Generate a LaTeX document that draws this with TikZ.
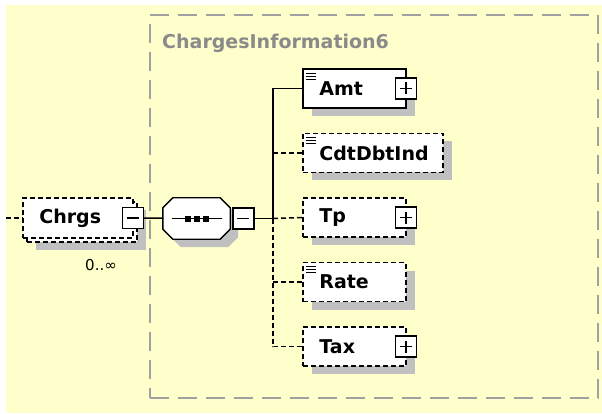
\documentclass[tikz,border=0pt]{standalone}
\usepackage{fontspec}
\setmainfont{DejaVu Sans}
\usetikzlibrary{positioning,shadows}
\definecolor{paper}{HTML}{FFFFCC}
\definecolor{grpline}{HTML}{A0A0A0}
\definecolor{grptext}{HTML}{8A8A8A}
\definecolor{shadowgray}{HTML}{C0C0C0}

\newcommand\docmark[1]{%
  \foreach \dy in {5,8,11}
    \draw[line width=1.3pt] ([shift={(4,\dy)}]#1.north west) -- ++(10,0);}
% octagon outline round a sequence node
\newcommand\octpath[1]{([xshift=10pt]#1.north west) -- ([xshift=-10pt]#1.north east)
  -- ([yshift=-10pt]#1.north east) -- ([yshift=10pt]#1.south east)
  -- ([xshift=-10pt]#1.south east) -- ([xshift=10pt]#1.south west)
  -- ([yshift=10pt]#1.south west) -- ([yshift=-10pt]#1.north west) -- cycle}

\begin{document}
\begin{tikzpicture}[x=1pt, y=-1pt,
  elem/.style={draw, fill=white, line width=1.6pt, inner sep=0pt,
               minimum width=103pt, minimum height=39pt},
  shd/.style={drop shadow={shadow xshift=9pt, shadow yshift=-8pt,
              fill=shadowgray, opacity=1}},
  opt/.style={dash pattern=on 5pt off 3pt},
  lbl/.style={font=\fontsize{19}{22}\selectfont\bfseries, inner sep=0pt},
  pmbox/.style={draw, fill=white, line width=1.4pt, minimum size=21pt,
                inner sep=0pt},
  minusbox/.style={pmbox, path picture={
      \draw[line width=1.4pt] ([xshift=-6pt]path picture bounding box.center)
        -- ([xshift=6pt]path picture bounding box.center);}},
  plusbox/.style={pmbox, path picture={
      \draw[line width=1.4pt] ([xshift=-6pt]path picture bounding box.center)
        -- ([xshift=6pt]path picture bounding box.center);
      \draw[line width=1.4pt] ([yshift=-6pt]path picture bounding box.center)
        -- ([yshift=6pt]path picture bounding box.center);}},
  seqbox/.style={inner sep=0pt, minimum width=67pt, minimum height=41pt},
  conn/.style={line width=1.5pt},
  grp/.style={draw=grpline, line width=2pt, dash pattern=on 19pt off 9pt,
              minimum width=448pt, minimum height=383pt, inner sep=0pt},
]
\useasboundingbox (0,0) rectangle (602,414);
\fill[white] (0,0) rectangle (602,414);
\fill[paper] (6,5) rectangle (602,413);

% ── Group ChargesInformation6 ──────────────────────────────────────────
\node[grp] (grp) at (374,206.5) {};
\node[lbl, text=grptext, anchor=west] (grpL) at (162,43) {ChargesInformation6};

% ── Chrgs (0..unbounded) ───────────────────────────────────────────────
\node[elem, opt, shd, minimum width=110pt, minimum height=40pt] (chrgsbk) at (82,222) {};
\node[elem, opt, minimum width=110pt, minimum height=40pt] (chrgs) at (78,218) {};
\node[lbl, right=17pt of chrgs.west] (chrgsL) {Chrgs};
\node[minusbox] (chrgsM) at ([xshift=-1pt]chrgs.east) {};
\node[font=\fontsize{15}{17}\selectfont] (occ) at (101,265) {0..∞};
\coordinate (inlet) at (6,218);

% ── sequence ───────────────────────────────────────────────────────────
\node[seqbox] (seq) at (196.5,218.5) {};
\node[seqbox] (seqsh) at (204.5,226.5) {};
\fill[shadowgray] \octpath{seqsh};
\filldraw[fill=white, line width=1.4pt] \octpath{seq};
\draw[conn] ([xshift=9pt]seq.west) -- ([xshift=-8pt]seq.east);
\foreach \dx in {-9,0,9}
  \fill ([xshift=\dx pt]seq.center) +(-3,-3) rectangle +(3,3);
\node[minusbox, right=2pt of seq] (seqM) {};
\coordinate (fork) at (273,218.5);

% ── children ───────────────────────────────────────────────────────────
\node[elem, shd] (amt) at (354.5,88.5) {};
\node[elem, opt, shd, minimum width=140pt] (cdt) at (373,153) {};
\node[elem, opt, shd] (tp) at (354.5,217.5) {};
\node[elem, opt, shd] (rate) at (354.5,282) {};
\node[elem, opt, shd] (tax) at (354.5,346.5) {};

\node[lbl, right=17pt of amt.west] (amtL) {Amt};
\node[lbl, right=17pt of cdt.west] (cdtL) {CdtDbtInd};
\node[lbl, right=17pt of tp.west] (tpL) {Tp};
\node[lbl, right=17pt of rate.west] (rateL) {Rate};
\node[lbl, right=17pt of tax.west] (taxL) {Tax};

\node[plusbox] (amtP) at ([xshift=-1pt]amt.east) {};
\node[plusbox] (tpP) at ([xshift=-1pt]tp.east) {};
\node[plusbox] (taxP) at ([xshift=-1pt]tax.east) {};

\docmark{amt}
\docmark{cdt}
\docmark{rate}

% ── Edges ──────────────────────────────────────────────────────────────
\draw[conn, opt] (inlet) -- (chrgs.west);
\draw[conn] (chrgsM) -- (seq);
\draw[conn] (seqM) -- (fork);
\draw[conn, opt] (cdt.west -| fork) -- (cdt.west);
\draw[conn, opt] (fork) -- (tp.west);
\draw[conn, opt] (rate.west -| fork) -- (rate.west);
\draw[conn, opt] (fork) |- (tax.west);
\draw[conn] (fork) |- (amt.west);

\end{tikzpicture}
\end{document}
